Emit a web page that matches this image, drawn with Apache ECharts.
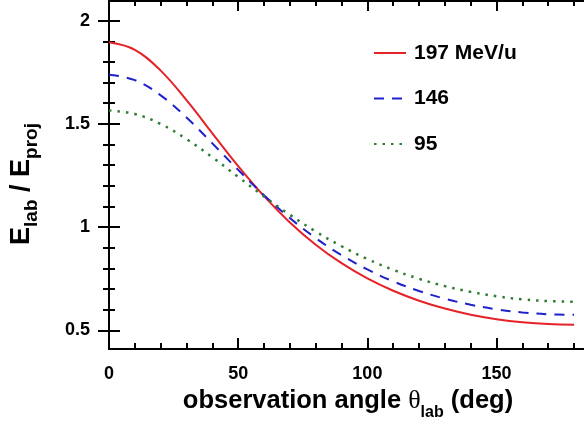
<!DOCTYPE html>
<html>
<head>
<meta charset="utf-8">
<script src="https://cdn.jsdelivr.net/npm/echarts@6/dist/echarts.min.js"></script>
<style>html,body{margin:0;padding:0;background:#fff}#c{width:584px;height:432px}</style>
</head>
<body>
<div id="c"></div>
<script>
const angles = [0,10,20,30,40,50,60,70,80,90,100,110,120,130,140,150,160,170,180];
const e197 = [1.8954,1.8588,1.7580,1.6149,1.4544,1.2955,1.1500,1.0229,0.9151,0.8254,0.7517,0.6919,0.6437,0.6057,0.5762,0.5544,0.5393,0.5305,0.5276];
const e146 = [1.7381,1.7119,1.6383,1.5309,1.4058,1.2771,1.1547,1.0440,0.9472,0.8645,0.7951,0.7377,0.6909,0.6534,0.6242,0.6023,0.5872,0.5783,0.5753];
const e95  = [1.5650,1.5480,1.4995,1.4265,1.3382,1.2432,1.1488,1.0597,0.9789,0.9075,0.8457,0.7934,0.7499,0.7145,0.6865,0.6653,0.6506,0.6419,0.6390];
const seriesNames = ['197 MeV/u','146','95'];
const xLabels = [0,50,100,150];
const xMajorTicks = [0,50,100,150];
const xMinorTicks = [10,20,30,40,60,70,80,90,110,120,130,140,160,170,180];
const yLabels = [0.5,1,1.5,2];
const yMajorTicks = [0.5,1,1.5,2];
const yMinorTicks = [0.6,0.7,0.8,0.9,1.1,1.2,1.3,1.4,1.6,1.7,1.8,1.9];

const FONT = "'Liberation Sans', Arial, sans-serif";
const XMIN = 0, XMAX = 185, YMIN = 0.41, YMAX = 2.095;

function pairs(ys){ return angles.map((a,i)=>[a, ys[i]]); }

function xAx(pos, ticks, len, labels, extra){
  return Object.assign({
    type:'value', min:XMIN, max:XMAX, position:pos,
    axisLine:{show:true, lineStyle:{color:'#000', width:2}},
    axisTick:{show:true, inside:true, length:len, customValues:ticks, lineStyle:{color:'#000', width:2}},
    axisLabel: labels ? {show:true, customValues:labels, color:'#000', fontFamily:FONT, fontWeight:'bold', fontSize:18, margin:16} : {show:false},
    splitLine:{show:false}
  }, extra||{});
}
function yAx(pos, ticks, len, labels, extra){
  return Object.assign({
    type:'value', min:YMIN, max:YMAX, position:pos,
    axisLine:{show:true, lineStyle:{color:'#000', width:2}},
    axisTick:{show:true, inside:true, length:len, customValues:ticks, lineStyle:{color:'#000', width:2}},
    axisLabel: labels ? {show:true, customValues:labels, color:'#000', fontFamily:FONT, fontWeight:'bold', fontSize:18, margin:19} : {show:false},
    splitLine:{show:false}
  }, extra||{});
}

const chart = echarts.init(document.getElementById('c'), null, {renderer:'canvas'});
chart.setOption({
  animation:false,
  backgroundColor:'#fff',
  grid:{left:109, right:-3, top:1, bottom:83, containLabel:false, outerBoundsMode:'none'},
  legend:{
    orient:'vertical', left:368, top:36, itemWidth:32, itemHeight:14, itemGap:21.5,
    itemStyle:{opacity:0},
    textStyle:{color:'#000', fontFamily:FONT, fontWeight:'bold', fontSize:21, lineHeight:24, padding:[0,0,0,3]},
    data:seriesNames
  },
  xAxis:[
    xAx('bottom', xMinorTicks, 6, xLabels, {
      name:'{t|observation angle }{th|θ}{s|lab}{t| (deg)}',
      nameLocation:'middle', nameGap:29,
      nameTextStyle:{color:'#000', verticalAlign:'top', rich:{
        t:{fontFamily:FONT, fontWeight:'bold', fontSize:25.5, lineHeight:40, color:'#000'},
        th:{fontFamily:"'Liberation Serif', serif", fontWeight:'normal', fontSize:26, lineHeight:40, color:'#000'},
        s:{fontFamily:FONT, fontWeight:'bold', fontSize:16, lineHeight:15, verticalAlign:'bottom', color:'#000'}
      }}
    }),
    xAx('bottom', xMajorTicks, 11, null, {axisLine:{show:false}}),
    xAx('top', xMinorTicks, 5, null),
    xAx('top', xMajorTicks, 10, null, {axisLine:{show:false}})
  ],
  yAxis:[
    yAx('left', yMinorTicks, 6, yLabels, {
      name:'{t|E}{s|lab}{t| / E}{s|proj}',
      nameLocation:'middle', nameGap:68, nameRotate:90,
      nameTextStyle:{color:'#000', padding:[0,18,0,0], rich:{
        t:{fontFamily:FONT, fontWeight:'bold', fontSize:27, lineHeight:38, color:'#000'},
        s:{fontFamily:FONT, fontWeight:'bold', fontSize:19, lineHeight:22, verticalAlign:'bottom', color:'#000'}
      }}
    }),
    yAx('left', yMajorTicks, 11, null, {axisLine:{show:false}}),
    yAx('right', yMinorTicks, 6, null),
    yAx('right', yMajorTicks, 11, null, {axisLine:{show:false}})
  ],
  series:[
    {name:seriesNames[0], type:'line', data:pairs(e197), smooth:0.4, symbol:'none', xAxisIndex:0, yAxisIndex:0,
      lineStyle:{color:'#e52228', width:2, type:'solid'}, itemStyle:{color:'#e52228'}},
    {name:seriesNames[1], type:'line', data:pairs(e146), smooth:0.4, symbol:'none', xAxisIndex:0, yAxisIndex:0,
      lineStyle:{color:'#1f22cc', width:2, type:[10,8]}, itemStyle:{color:'#1f22cc'}},
    {name:seriesNames[2], type:'line', data:pairs(e95), smooth:0.4, symbol:'none', xAxisIndex:0, yAxisIndex:0,
      lineStyle:{color:'#2e7d32', width:2.5, type:[2.5,6]}, itemStyle:{color:'#2e7d32'}}
  ]
});
</script>
</body>
</html>
